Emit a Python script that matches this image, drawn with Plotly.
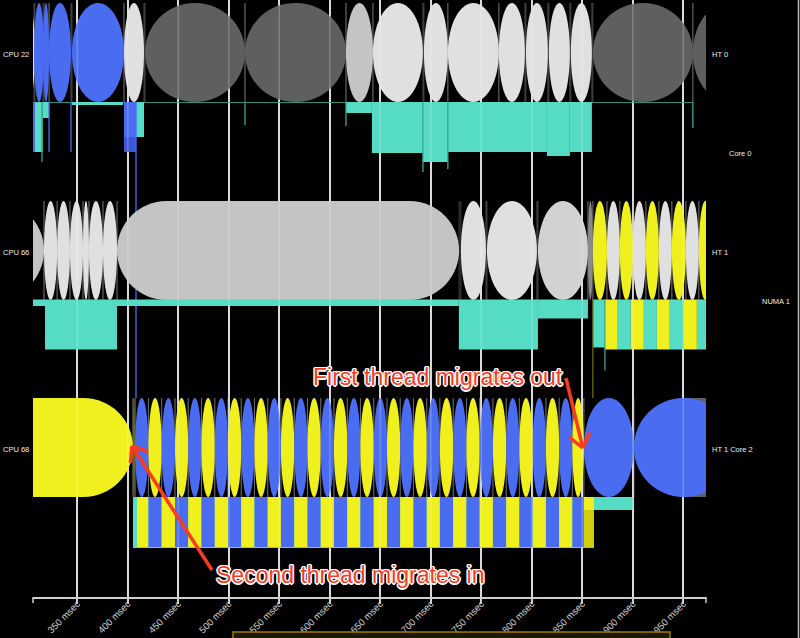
import math
import plotly.graph_objects as go

# ---------------- data ----------------
TICK_VALUES = [350, 400, 450, 500, 550, 600, 650, 700, 750, 800, 850, 900, 950]
TICK_LABELS = ["350 msec", "400 msec", "450 msec", "500 msec", "550 msec", "600 msec",
               "650 msec", "700 msec", "750 msec", "800 msec", "850 msec", "900 msec", "950 msec"]
X_RANGE = [306.1, 972.5]

LANE_LABELS = ["CPU 22", "CPU 66", "CPU 68"]
HT_LABELS = ["HT 0", "HT 1", "HT 1 Core 2"]
GROUP_LABELS = ["Core 0", "NUMA 1"]

# running slices: (thread/colour key, start ms, end ms)
CPU22_SLICES = [
    ("white", 296.0, 308.0), ("blue", 307.1, 317.0), ("blue", 316.0, 322.0),
    ("blue", 322.0, 343.7), ("blue", 344.7, 396.2), ("white", 396.2, 416.0),
    ("dark", 417.0, 516.0), ("dark", 516.0, 616.0), ("light", 616.0, 642.7),
    ("white", 642.7, 692.2), ("white", 693.2, 716.9), ("white", 716.9, 767.4),
    ("white", 767.4, 793.2), ("white", 794.2, 815.9), ("white", 816.9, 837.7),
    ("white", 838.7, 859.5), ("dark", 860.5, 959.5), ("dark", 959.5, 1031.0),
]
CPU66_SLICES = [
    ("light", 217.0, 317.0), ("white", 317.0, 330.0), ("white", 330.0, 342.7),
    ("white", 342.7, 355.6), ("white", 355.6, 361.5), ("white", 361.5, 375.4),
    ("white", 375.4, 389.3), ("light", 389.3, 728.0), ("white", 729.8, 754.6),
    ("white", 755.6, 805.1), ("silver", 806.1, 855.6), ("mid", 855.6, 860.5),
    ("yellow", 860.5, 874.4), ("white", 874.4, 887.2), ("yellow", 887.2, 900.1),
    ("white", 900.1, 913.0), ("yellow", 913.0, 925.8), ("white", 925.8, 938.7),
    ("yellow", 938.7, 952.6), ("white", 952.6, 965.4), ("yellow", 965.4, 978.3),
]
CPU68_BACKGROUND = [("dark", 946.6, 1010.0)]
CPU68_SLICES = [
    ("yellow", 250.0, 405.1), ("olive", 405.1, 407.1),
    ("blue", 407.1, 420.4), ("yellow", 420.4, 433.5), ("blue", 433.5, 446.7),
    ("yellow", 446.7, 459.8), ("blue", 459.8, 472.9), ("yellow", 472.9, 486.1),
    ("blue", 486.1, 499.2), ("yellow", 499.2, 512.3), ("blue", 512.3, 525.4),
    ("yellow", 525.4, 538.5), ("blue", 538.5, 551.6), ("yellow", 551.6, 564.8),
    ("blue", 564.8, 577.9), ("yellow", 577.9, 591.0), ("blue", 591.0, 604.1),
    ("yellow", 604.1, 617.3), ("blue", 617.3, 630.3), ("yellow", 630.3, 643.5),
    ("blue", 643.5, 656.6), ("yellow", 656.6, 669.7), ("blue", 669.7, 682.8),
    ("yellow", 682.8, 696.0), ("blue", 696.0, 709.0), ("yellow", 709.0, 722.2),
    ("blue", 722.2, 735.3), ("yellow", 735.3, 748.4), ("blue", 748.4, 761.5),
    ("yellow", 761.5, 774.7), ("blue", 774.7, 787.7), ("yellow", 787.7, 800.9),
    ("blue", 800.9, 814.0), ("yellow", 814.0, 827.1), ("blue", 827.1, 840.2),
    ("yellow", 840.2, 851.6), ("blue", 851.6, 901.1), ("blue", 901.1, 1000.0),
]

# waiting / runnable bars: (colour key, start ms, end ms, depth; 1.0 = full bar)
CPU22_BARS = [
    ("blue", 306.1, 308.1, 1.0), ("cyan", 308.1, 315.7, 1.0), ("cyan", 315.7, 322.0, 0.32),
    ("cyan", 344.7, 395.2, 0.06), ("blue_dark", 396.2, 408.1, 1.0), ("blue", 396.2, 408.1, 0.7),
    ("cyan", 408.1, 416.0, 0.7), ("cyan", 616.0, 641.7, 0.22), ("cyan", 641.7, 692.2, 1.02),
    ("cyan", 692.2, 716.9, 1.2), ("cyan", 716.9, 815.0, 1.0), ("cyan", 815.0, 837.7, 1.08),
    ("cyan", 837.7, 859.5, 1.0),
]
CPU66_BARS = [
    ("cyan", 306.1, 318.0, 0.13), ("cyan", 318.0, 389.3, 1.0), ("cyan", 389.3, 727.8, 0.13),
    ("cyan", 727.8, 806.1, 1.0), ("cyan", 806.1, 855.6, 0.38), ("cyan", 860.5, 872.4, 0.96),
    ("yellow", 872.4, 885.2, 1.0), ("cyan", 885.2, 898.1, 1.0), ("yellow", 898.1, 911.0, 1.0),
    ("cyan", 911.0, 923.9, 1.0), ("yellow", 923.9, 936.7, 1.0), ("cyan", 936.7, 950.6, 1.0),
    ("yellow", 950.6, 963.5, 1.0), ("cyan", 963.5, 976.3, 1.0),
]
CPU68_BARS = [
    ("cyan", 405.1, 861.5, 1.02),
    ("yellow", 409.1, 420.4, 1.0), ("blue", 420.4, 433.5, 1.0), ("yellow", 433.5, 446.7, 1.0),
    ("blue", 446.7, 459.8, 1.0), ("yellow", 459.8, 472.9, 1.0), ("blue", 472.9, 486.1, 1.0),
    ("yellow", 486.1, 499.2, 1.0), ("blue", 499.2, 512.3, 1.0), ("yellow", 512.3, 525.4, 1.0),
    ("blue", 525.4, 538.5, 1.0), ("yellow", 538.5, 551.6, 1.0), ("blue", 551.6, 564.8, 1.0),
    ("yellow", 564.8, 577.9, 1.0), ("blue", 577.9, 591.0, 1.0), ("yellow", 591.0, 604.1, 1.0),
    ("blue", 604.1, 617.3, 1.0), ("yellow", 617.3, 630.3, 1.0), ("blue", 630.3, 643.5, 1.0),
    ("yellow", 643.5, 656.6, 1.0), ("blue", 656.6, 669.7, 1.0), ("yellow", 669.7, 682.8, 1.0),
    ("blue", 682.8, 696.0, 1.0), ("yellow", 696.0, 709.0, 1.0), ("blue", 709.0, 722.2, 1.0),
    ("yellow", 722.2, 735.3, 1.0), ("blue", 735.3, 748.4, 1.0), ("yellow", 748.4, 761.5, 1.0),
    ("blue", 761.5, 774.7, 1.0), ("yellow", 774.7, 787.7, 1.0), ("blue", 787.7, 800.9, 1.0),
    ("yellow", 800.9, 814.0, 1.0), ("blue", 814.0, 827.1, 1.0), ("yellow", 827.1, 840.2, 1.0),
    ("blue", 840.2, 851.6, 1.0), ("yellow_dark", 851.6, 861.5, 1.0), ("yellow", 851.6, 861.5, 0.26),
    ("cyan", 861.5, 900.1, 0.26),
]

# thin wakeup / migration ticks: (colour key, time ms, depth)
CPU22_SPIKES = [
    ("teal", 315.0, 1.2), ("blue", 322.0, 1.0), ("blue", 343.7, 1.0), ("blue", 408.1, 5.92),
    ("teal", 516.0, 0.46), ("teal", 616.0, 0.48), ("teal", 692.2, 1.4), ("teal", 716.9, 1.34),
    ("teal", 959.5, 0.52),
]
CPU66_SPIKES = [("olive", 860.5, 1.97), ("teal", 872.4, 1.42)]
CPU68_SPIKES = []

# annotations (time ms of text centre / arrow tail / arrow head)
NOTE_TEXTS = ["First thread migrates out", "Second thread migrates in"]
NOTE_TEXT_X = [707.0, 620.0]
NOTE_TAIL_X = [833.8, 483.3]
NOTE_HEAD_X = [850.6, 404.1]

# ---------------- style / layout ----------------
COLORS = {
    "blue": "#4a6cf0", "blue_dark": "#3b57d6", "yellow": "#f0f01e", "yellow_dark": "#cfcf0c",
    "white": "#e0e0e0", "light": "#c4c4c4", "silver": "#d2d2d2", "mid": "#8a8a8a",
    "dark": "#5f5f5f", "cyan": "#56dcc4", "teal": "#3aa896", "olive": "#6a6a16",
}
W, H = 800, 638
ML, MR, MT, MB = 33, 94, 0, 41
PLOT_W = W - ML - MR
PLOT_H = H - MT - MB
PXMS = PLOT_W / (X_RANGE[1] - X_RANGE[0])
LANE_TOP = [3, 201, 398]
LANE_H = 99
BAR_TOP = [102, 299.5, 497]
BAR_UNIT = 50
LABEL_FONT = "Liberation Sans, Arial, sans-serif"


def px_x(px):
    return (px - ML) / PLOT_W


def px_y(py):
    return (PLOT_H - (py - MT)) / PLOT_H


def capsule_path(x0, x1, y0, y1):
    ry = (y1 - y0) / 2.0
    rx = min((x1 - x0) / 2.0, ry / PXMS)
    k = 0.5523
    cy = (y0 + y1) / 2.0
    f = lambda v: f"{v:.3f}"
    return (f"M{f(x0 + rx)},{f(y0)} L{f(x1 - rx)},{f(y0)} "
            f"C{f(x1 - rx + k * rx)},{f(y0)} {f(x1)},{f(cy - k * ry)} {f(x1)},{f(cy)} "
            f"C{f(x1)},{f(cy + k * ry)} {f(x1 - rx + k * rx)},{f(y1)} {f(x1 - rx)},{f(y1)} "
            f"L{f(x0 + rx)},{f(y1)} "
            f"C{f(x0 + rx - k * rx)},{f(y1)} {f(x0)},{f(cy + k * ry)} {f(x0)},{f(cy)} "
            f"C{f(x0)},{f(cy - k * ry)} {f(x0 + rx - k * rx)},{f(y0)} {f(x0 + rx)},{f(y0)} Z")


shapes = []
lanes = [
    (CPU22_SLICES, CPU22_BARS, CPU22_SPIKES, []),
    (CPU66_SLICES, CPU66_BARS, CPU66_SPIKES, []),
    (CPU68_SLICES, CPU68_BARS, CPU68_SPIKES, CPU68_BACKGROUND),
]

# slice boundary hairlines (visible in the gaps between slices)
for li, (slices, bars, spikes, bg) in enumerate(lanes):
    for key, s, e in slices:
        for t in (s, e):
            shapes.append(dict(type="line", xref="x", yref="y", x0=t, x1=t,
                               y0=LANE_TOP[li], y1=LANE_TOP[li] + LANE_H,
                               line=dict(color="rgba(170,170,170,0.4)", width=1)))

# lane baseline for CPU 22
shapes.append(dict(type="line", xref="x", yref="y", x0=X_RANGE[0], x1=959.5,
                   y0=BAR_TOP[0] + 0.5, y1=BAR_TOP[0] + 0.5,
                   line=dict(color="#2f8f7e", width=1)))

for li, (slices, bars, spikes, bg) in enumerate(lanes):
    y0, y1 = LANE_TOP[li], LANE_TOP[li] + LANE_H
    for key, s, e in bg:
        shapes.append(dict(type="rect", xref="x", yref="y", x0=s, x1=e, y0=y0, y1=y1,
                           fillcolor=COLORS[key], line=dict(width=0)))
    for key, s, e in slices:
        shapes.append(dict(type="path", xref="x", yref="y", path=capsule_path(s, e, y0, y1),
                           fillcolor=COLORS[key], line=dict(width=0)))
    for key, s, e, d in bars:
        shapes.append(dict(type="rect", xref="x", yref="y", x0=s, x1=e,
                           y0=BAR_TOP[li], y1=BAR_TOP[li] + d * BAR_UNIT,
                           fillcolor=COLORS[key], line=dict(width=0)))
    for key, t, d in spikes:
        shapes.append(dict(type="line", xref="x", yref="y", x0=t, x1=t,
                           y0=BAR_TOP[li], y1=BAR_TOP[li] + d * BAR_UNIT,
                           line=dict(color=COLORS[key], width=1.3)))

# faint grid overlay (grid shows through the slices)
for v in TICK_VALUES:
    shapes.append(dict(type="line", xref="x", yref="y", x0=v, x1=v, y0=0, y1=PLOT_H,
                       line=dict(color="rgba(255,255,255,0.22)", width=1.5)))

# outer axis ticks at domain ends
for px in (0, 1):
    shapes.append(dict(type="line", xref="paper", yref="paper", x0=px, x1=px,
                       y0=0, y1=px_y(MT + PLOT_H + 6), line=dict(color="#cfcfcf", width=1.5)))

# right-hand frame line
shapes.append(dict(type="line", xref="paper", yref="paper", x0=px_x(798.5), x1=px_x(798.5),
                   y0=1, y1=px_y(H), line=dict(color="#bdbdbd", width=1.5)))

# brush (time window) at bottom
shapes.append(dict(type="rect", xref="paper", yref="paper", x0=px_x(233), x1=px_x(670),
                   y0=px_y(632), y1=px_y(640), fillcolor="#1d1800",
                   line=dict(color="#a07a00", width=1.5)))

# annotation arrows
NOTE_TEXT_Y = [377, 575]
NOTE_TAIL_Y = [378, 570]
NOTE_HEAD_Y = [448, 446]
RED = "#fb3b1f"
for i in range(len(NOTE_TEXTS)):
    hx, hy = NOTE_HEAD_X[i], NOTE_HEAD_Y[i]
    tx, ty = NOTE_TAIL_X[i], NOTE_TAIL_Y[i]
    shapes.append(dict(type="line", xref="x", yref="y", x0=tx, y0=ty, x1=hx, y1=hy,
                       line=dict(color=RED, width=3.5)))
    dx, dy = (tx - hx) * PXMS, (ty - hy)
    n = math.hypot(dx, dy)
    ux, uy = dx / n, dy / n
    for ang in (38, -38):
        a = math.radians(ang)
        vx = (ux * math.cos(a) - uy * math.sin(a)) * 17
        vy = (ux * math.sin(a) + uy * math.cos(a)) * 17
        shapes.append(dict(type="line", xref="x", yref="y", x0=hx, y0=hy,
                           x1=hx + vx / PXMS, y1=hy + vy, line=dict(color=RED, width=3.5)))

annotations = []
for i, name in enumerate(LANE_LABELS):
    cy = LANE_TOP[i] + 51
    annotations.append(dict(text=name, xref="paper", yref="y", x=px_x(1), y=cy,
                            xanchor="left", yanchor="middle", showarrow=False,
                            font=dict(family=LABEL_FONT, size=7.5, color="#eeeeee")))
    annotations.append(dict(text=HT_LABELS[i], xref="paper", yref="y", x=px_x(710), y=cy,
                            xanchor="left", yanchor="middle", showarrow=False,
                            font=dict(family=LABEL_FONT, size=7.5, color="#eeeeee")))
annotations.append(dict(text=GROUP_LABELS[0], xref="paper", yref="y", x=px_x(727), y=153,
                        xanchor="left", yanchor="middle", showarrow=False,
                        font=dict(family=LABEL_FONT, size=7.5, color="#eeeeee")))
annotations.append(dict(text=GROUP_LABELS[1], xref="paper", yref="y", x=px_x(760), y=301,
                        xanchor="left", yanchor="middle", showarrow=False,
                        font=dict(family=LABEL_FONT, size=7.5, color="#eeeeee")))
outline = ("1px 1px 0 #fff, -1px -1px 0 #fff, 1px -1px 0 #fff, -1px 1px 0 #fff, "
           "0 1.5px 0 #fff, 0 -1.5px 0 #fff, 1.5px 0 0 #fff, -1.5px 0 0 #fff")
for i, txt in enumerate(NOTE_TEXTS):
    annotations.append(dict(text=txt, xref="x", yref="y", x=NOTE_TEXT_X[i], y=NOTE_TEXT_Y[i],
                            xanchor="center", yanchor="middle", showarrow=False,
                            font=dict(family=LABEL_FONT, size=23, color=RED, shadow=outline)))

fig = go.Figure()
fig.add_trace(go.Scatter(x=[], y=[], mode="markers", showlegend=False, hoverinfo="skip"))
fig.update_layout(
    template="none",
    width=W, height=H, autosize=False,
    margin=dict(l=ML, r=MR, t=MT, b=MB, pad=0, autoexpand=False),
    paper_bgcolor="#000000", plot_bgcolor="#000000",
    showlegend=False,
    shapes=shapes,
    annotations=annotations,
    xaxis=dict(range=X_RANGE, tickmode="array", tickvals=TICK_VALUES, ticktext=TICK_LABELS,
               tickangle=-45, tickfont=dict(family=LABEL_FONT, size=9.5, color="#d0d0d0"),
               ticklabelstandoff=-9,
               automargin=False,
               showgrid=True, gridcolor="#d4d4d4", gridwidth=1.5, zeroline=False,
               showline=True, linecolor="#cfcfcf", linewidth=1.5,
               ticks="outside", ticklen=5, tickwidth=1.5, tickcolor="#cfcfcf", fixedrange=True),
    yaxis=dict(range=[PLOT_H, 0], visible=False, showgrid=False, zeroline=False,
               automargin=False, fixedrange=True),
)

fig.write_html("out.html", config={"displayModeBar": False},
               post_script="document.body.style.margin='0';")
